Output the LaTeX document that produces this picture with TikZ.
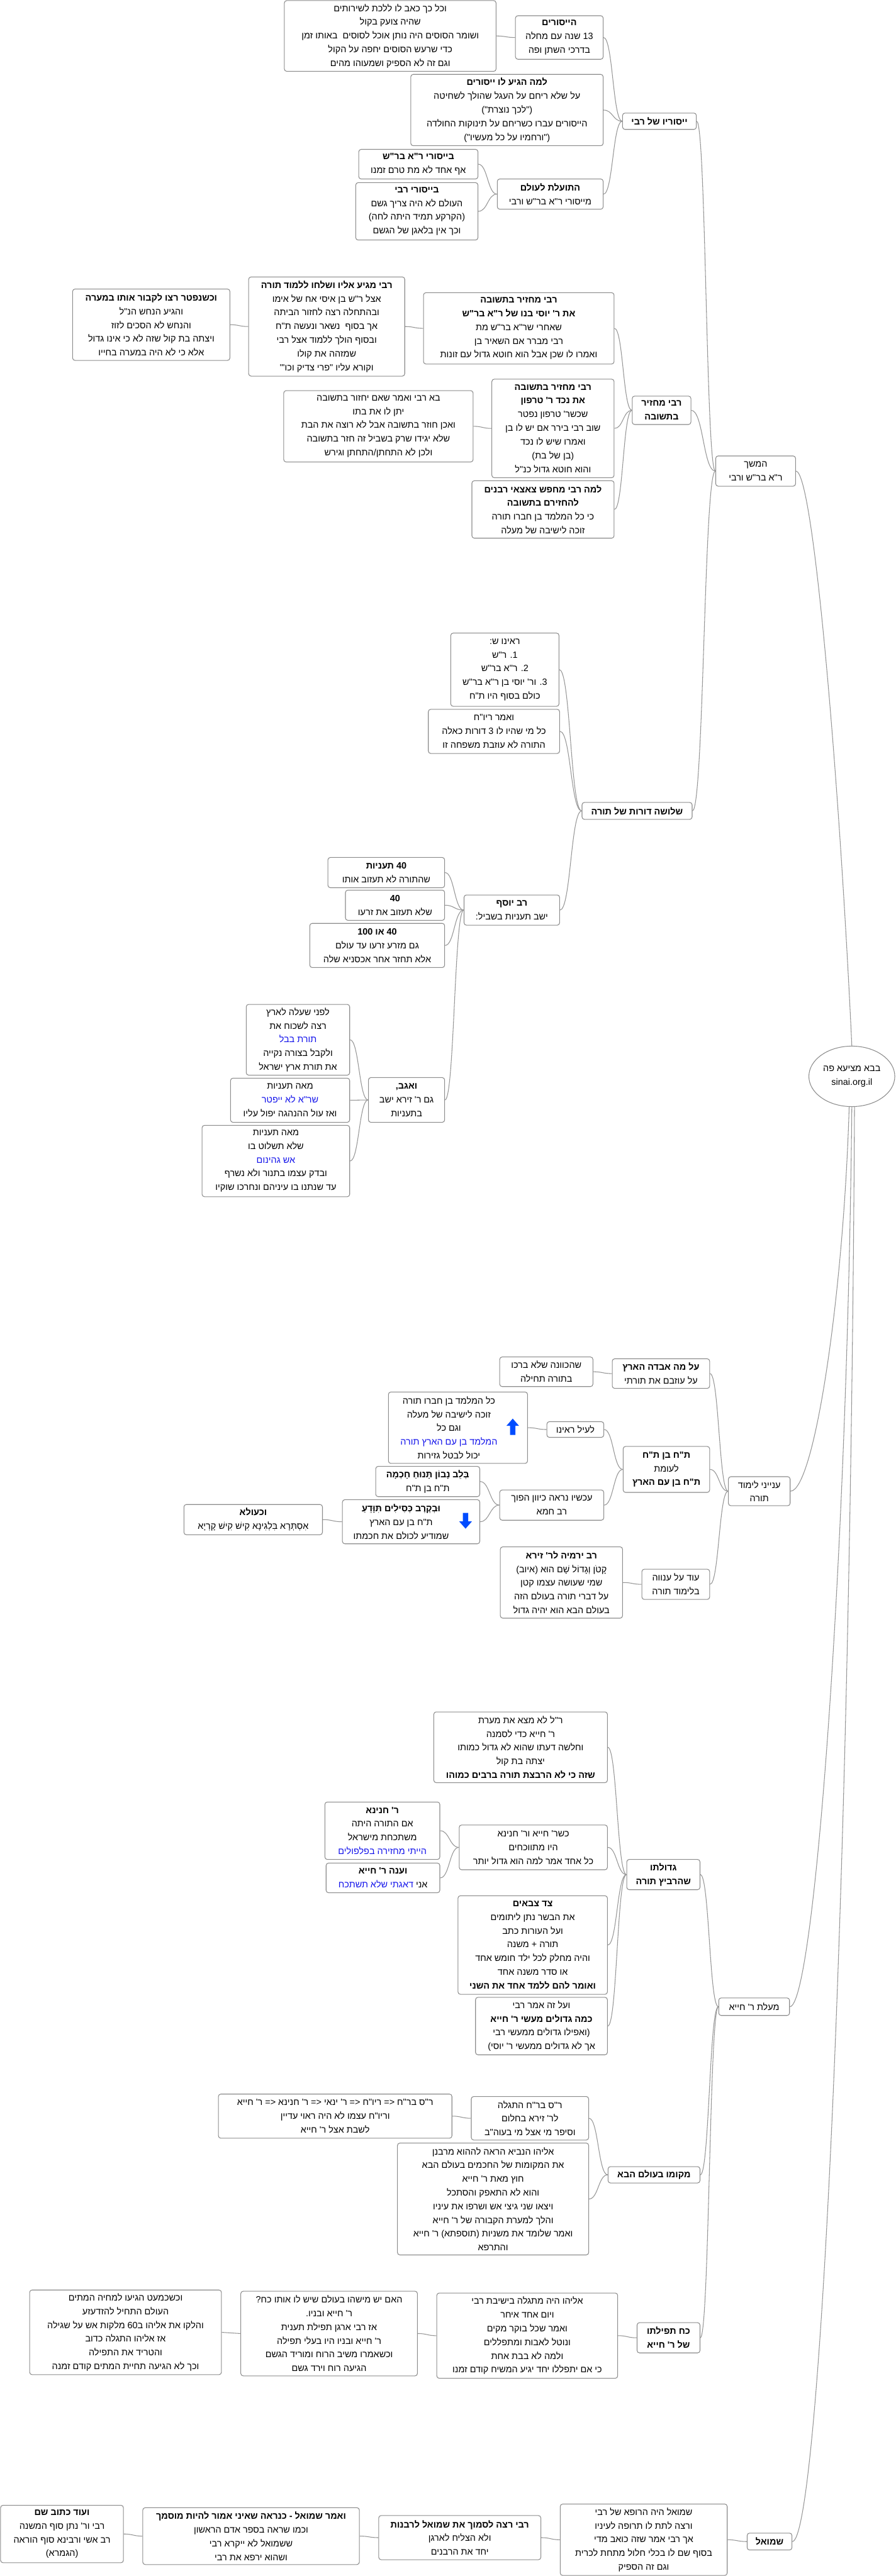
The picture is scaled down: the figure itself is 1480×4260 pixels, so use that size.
\documentclass[tikz,border=0pt]{standalone}
\usepackage{fontspec}
\usetikzlibrary{shapes.geometric,calc}
\newfontfamily\heb[Script=Hebrew,Ligatures=ResetAll]{Liberation Sans}
\TeXXeTstate=1
\definecolor{hblue}{RGB}{20,20,235}
\definecolor{bordc}{RGB}{140,140,140}
\definecolor{connc}{RGB}{150,150,150}
\newcommand\R[1]{{\beginR #1\endR}}
\newcommand\B[1]{{\bfseries\beginR #1\endR}}
\newcommand\BL[1]{{\color{hblue}\beginR #1\endR}}
\tikzset{
  bx/.style={draw=bordc,line width=1.1pt,rounded corners=4pt,fill=white,align=center,inner sep=0pt,
    font=\heb\fontsize{15}{22.7}\selectfont},
  txt/.style={align=center,inner sep=0pt,font=\heb\fontsize{15}{22.7}\selectfont},
  conn/.style={draw=connc,line width=1.1pt}
}
\newcommand\bx[6]{\node[bx,minimum width={#4-#2},minimum height={#5-#3}] (#1) at ({(#2+#4)/2},{(#3+#5)/2}) {#6};}
\newcommand\cn[2]{\draw[conn] let \p1=(#1.west), \p2=(#2.east) in (\p1) .. controls ({0.5*\x1+0.5*\x2},\y1) and ({0.5*\x1+0.5*\x2},\y2) .. (\p2);}
\begin{document}
\begin{tikzpicture}[x=1pt,y=-1pt]
\fill[white] (0,0) rectangle (1480,4260);
\useasboundingbox (0,0) rectangle (1480,4260);

% root
\node[ellipse,draw=bordc,line width=1.1pt,fill=white,minimum width=142,minimum height=100,txt] (root) at (1408,1780) {\R{בבא מציעא פה}\\ sinai.org.il};

% level 1
\bx{hamshech}{1183}{754}{1315}{804}{\R{המשך}\\\R{ר"א בר"ש ורבי}}
\bx{e0}{1204}{2442}{1306}{2490}{\R{ענייני לימוד}\\\R{תורה}}
\bx{f0}{1188}{3304}{1305}{3333}{\R{מעלת ר' חייא}}
\bx{g0}{1235}{4189}{1309}{4217}{\B{שמואל}}

% section A
\bx{yisurav}{1029}{187}{1151}{214}{\B{ייסוריו של רבי}}
\bx{a1}{852}{26}{997}{98}{\B{הייסורים}\\\R{13 שנה עם מחלה}\\\R{בדרכי השתן ופה}}
\bx{a1a}{470}{1}{820}{118}{\R{וכל כך כאב לו ללכת לשירותים}\\\R{שהיה צועק בקול}\\\R{ושומר הסוסים היה נותן אוכל לסוסים \ באותו זמן}\\\R{כדי שרעש הסוסים יחפה על הקול}\\\R{וגם זה לא הספיק ושמעוהו מהים}}
\bx{a2}{679}{123}{997}{241}{\B{למה הגיע לו ייסורים}\\\R{על שלא ריחם על העגל שהולך לשחיטה}\\\R{("לכך נוצרת")}\\\R{הייסורים עברו כשריחם על תינוקות החולדה}\\\R{("ורחמיו על כל מעשיו")}}
\bx{a3}{822}{296}{997}{346}{\B{התועלת לעולם}\\\R{מייסורי ר"א בר"ש ורבי}}
\bx{a3a}{593}{247}{790}{296}{\B{בייסורי ר"א בר"ש}\\\R{אף אחד לא מת טרם זמנו}}
\bx{a3b}{588}{302}{790}{397}{\B{בייסורי רבי}\\\R{העולם לא היה צריך גשם}\\\R{(הקרקע תמיד היתה לחה)}\\\R{וכך אין בלאגן של הגשם}}

% section B
\bx{machzir}{1045}{655}{1142}{702}{\B{רבי מחזיר}\\\B{בתשובה}}
\bx{b1}{700}{484}{1015}{602}{\B{רבי מחזיר בתשובה}\\\B{את ר' יוסי בנו של ר"א בר"ש}\\\R{שאחרי שר"א בר"ש מת}\\\R{רבי מברר אם השאיר בן}\\\R{ואמרו לו שכן אבל הוא חוטא גדול עם זונות}}
\bx{b1a}{411}{458}{669}{622}{\B{רבי מגיע אליו ושלחו ללמוד תורה}\\\R{אצל ר"ש בן איסי אח של אימו}\\\R{ובהתחלה רצה לחזור הביתה}\\\R{אך בסוף \ נשאר ונעשה ת"ח}\\\R{ובסוף הולך ללמוד אצל רבי}\\\R{שמזהה את קולו}\\\R{וקורא עליו "פרי צדיק וכו'"}}
\bx{b1a1}{120}{478}{380}{596}{\B{וכשנפטר רצו לקבור אותו במערה}\\\R{והגיע הנחש הנ"ל}\\\R{והנחש לא הסכים לזוז}\\\R{ויצתה בת קול שזה לא כי אינו גדול}\\\R{אלא כי לא היה במערה בחייו}}
\bx{b2}{813}{627}{1015}{790}{\B{רבי מחזיר בתשובה}\\\B{את נכד ר' טרפון}\\\R{שכשר' טרפון נפטר}\\\R{שוב רבי בירר אם יש לו בן}\\\R{ואמרו שיש לו נכד}\\\R{(בן של בת)}\\\R{והוא חוטא גדול כנ"ל}}
\bx{b2a}{469}{646}{782}{764}{\R{בא רבי ואמר שאם יחזור בתשובה}\\\R{יתן לו את בתו}\\\R{ואכן חוזר בתשובה אבל לא רוצה את הבת}\\\R{שלא יגידו שרק בשביל זה חזר בתשובה}\\\R{ולכן לא התחתן/התחתן וגירש}}
\bx{b3}{780}{795}{1015}{890}{\B{למה רבי מחפש צאצאי רבנים}\\\B{להחזירם בתשובה}\\\R{כי כל המלמד בן חברו תורה}\\\R{זוכה לישיבה של מעלה}}

% section C
\bx{shlosha}{962}{1327}{1144}{1355}{\B{שלושה דורות של תורה}}
\bx{c1}{745}{1047}{924}{1168}{\R{ראינו ש:}\\\R{1. ר"ש}\\\R{2. ר"א בר"ש}\\\R{3. ור' יוסי בן ר"א בר"ש}\\\R{כולם בסוף היו ת"ח}}
\bx{c2}{708}{1173}{925}{1246}{\R{ואמר ריו"ח}\\\R{כל מי שהיו לו 3 דורות כאלה}\\\R{התורה לא עוזבת משפחה זו}}

% section D
\bx{ravyosef}{767}{1480}{925}{1530}{\B{רב יוסף}\\\R{ישב תעניות בשביל:}}
\bx{d1}{542}{1418}{735}{1468}{\B{40 תעניות}\\\R{שהתורה לא תעזוב אותו}}
\bx{d2}{571}{1472}{735}{1522}{\B{40}\\\R{שלא תעזוב את זרעו}}
\bx{d3}{512}{1527}{735}{1600}{\B{40 או 100}\\\R{גם מזרע זרעו עד עולם}\\\R{אלא תחזר אחר אכסניא שלה}}
\bx{d4}{609}{1782}{735}{1856}{\B{ואגב,}\\\R{גם ר' זירא ישב}\\\R{בתעניות}}
\bx{d4a}{407}{1661}{578}{1778}{\R{לפני שעלה לארץ}\\\R{רצה לשכוח את}\\\BL{תורת בבל}\\\R{ולקבל בצורה נקייה}\\\R{את תורת ארץ ישראל}}
\bx{d4b}{381}{1783}{578}{1856}{\R{מאה תעניות}\\\BL{שר"א לא ייפטר}\\\R{ואז עול ההנהגה יפול עליו}}
\bx{d4c}{334}{1861}{578}{1979}{\R{מאה תעניות}\\\R{שלא תשלוט בו}\\\BL{אש גהינום}\\\R{ובדק עצמו בתנור ולא נשרף}\\\R{עד שנתנו בו עיניהם ונחרכו שוקיו}}

% section E
\bx{e1}{1012}{2247}{1173}{2296}{\B{על מה אבדה הארץ}\\\R{על עוזבם את תורתי}}
\bx{e1a}{826}{2244}{980}{2293}{\R{שהכוונה שלא ברכו}\\\R{בתורה תחילה}}
\bx{e2}{1030}{2392}{1173}{2468}{\B{ת"ח בן ת"ח}\\\R{לעומת}\\\B{ת"ח בן עם הארץ}}
\bx{e2a}{904}{2351}{998}{2377}{\R{לעיל ראינו}}
\bx{e2a1}{642}{2302}{872}{2420}{\strut}
\node[txt] (e2a1t) at (742,2361) {\R{כל המלמד בן חברו תורה}\\\R{זוכה לישיבה של מעלה}\\\R{וגם כל}\\\BL{המלמד בן עם הארץ תורה}\\\R{יכול לבטל גזירות}};
\fill[blue!70!cyan] (847.5,2346) -- (858,2358) -- (852,2358) -- (852,2373) -- (843,2373) -- (843,2358) -- (837,2358) -- cycle;
\bx{e2b}{826}{2464}{998}{2514}{\R{עכשיו נראה כיוון הפוך}\\\R{רב חמא}}
\bx{e2b1}{621}{2425}{793}{2475}{\B{בְּלֵב נָבוֹן תָּנוּחַ חָכְמָה}\\\R{ת"ח בן ת"ח}}
\bx{e2b2}{566}{2480}{793}{2553}{\strut}
\node[txt] (e2b2t) at (663,2516.5) {\B{וּבְקֶרֶב כְּסִילִים תִּוָּדֵעַ}\\\R{ת"ח בן עם הארץ}\\\R{שמודיע לכולם את חכמתו}};
\fill[blue!70!cyan] (769.5,2528) -- (780,2516) -- (774,2516) -- (774,2502) -- (765,2502) -- (765,2516) -- (759,2516) -- cycle;
\bx{e2b2a}{304}{2488}{533}{2538}{\B{וכעולא}\\\R{אִסְתְּרָא בִּלְגִינָא קִישׁ קִישׁ קָרְיָא}}
\bx{e3}{1061}{2595}{1173}{2645}{\R{עוד על ענווה}\\\R{בלימוד תורה}}
\bx{e3a}{827}{2558}{1029}{2676}{\B{רב ירמיה לר' זירא}\\\R{קָטֹן וְגָדוֹל שָׁם הוּא (איוב)}\\\R{שמי שעושה עצמו קטן}\\\R{על דברי תורה בעולם הזה}\\\R{בעולם הבא הוא יהיה גדול}}

% section F
\bx{f1}{1036}{3075}{1157}{3125}{\B{גדולתו}\\\B{שהרביץ תורה}}
\bx{f1a}{717}{2831}{1004}{2948}{\R{ר"ל לא מצא את מערת}\\\R{ר' חייא כדי לסמנה}\\\R{וחלשה דעתו שהוא לא גדול כמותו}\\\R{יצתה בת קול}\\\B{שזה כי לא הרבצת תורה ברבים כמוהו}}
\bx{f1b}{759}{3018}{1004}{3092}{\R{כשר' חייא ור' חנינא}\\\R{היו מתווכחים}\\\R{כל אחד אמר למה הוא גדול יותר}}
\bx{f1b1}{537}{2980}{727}{3075}{\B{ר' חנינא}\\\R{אם התורה היתה}\\\R{משתכחת מישראל}\\\BL{הייתי מחזירה בפלפולים}}
\bx{f1b2}{539}{3081}{727}{3130}{\B{וענה ר' חייא}\\\BL{דאגתי שלא תשתכח}\ \R{אני}}
\bx{f1c}{757}{3135}{1004}{3298}{\B{צד צבאים}\\\R{את הבשר נתן ליתומים}\\\R{ועל העורות כתב}\\\R{תורה + משנה}\\\R{והיה מחלק לכל ילד חומש אחד}\\\R{או סדר משנה אחד}\\\B{ואומר להם ללמד אחד את השני}}
\bx{f1d}{786}{3303}{1004}{3398}{\R{ועל זה אמר רבי}\\\B{כמה גדולים מעשי ר' חייא}\\\R{(ואפילו גדולים ממעשי רבי}\\\R{אך לא גדולים ממעשי ר' יוסי)}}
\bx{f2}{1005}{3583}{1157}{3610}{\B{מקומו בעולם הבא}}
\bx{f2a}{779}{3467}{973}{3539}{\R{ר"ס בר"ח התגלה}\\\R{לר' זירא בחלום}\\\R{וסיפר מי אצל מי בעוה"ב}}
\bx{f2a1}{361}{3463}{747}{3536}{\R{ר"ס בר"ח <= ריו"ח <= ר' ינאי <= ר' חנינא <= ר' חייא}\\\R{וריו"ח עצמו לא היה ראוי עדיין}\\\R{לשבת אצל ר' חייא}}
\bx{f2b}{657}{3544}{973}{3729}{\R{אליהו הנביא הראה לההוא מרבנן}\\\R{את המקומות של החכמים בעולם הבא}\\\R{חוץ מאת ר' חייא}\\\R{והוא לא התאפק והסתכל}\\\R{ויצאו שני גיצי אש ושרפו את עיניו}\\\R{והלך למערת הקבורה של ר' חייא}\\\R{ואמר שלומד את משניות (תוספתא) ר' חייא}\\\R{והתרפא}}
\bx{f3}{1053}{3841}{1157}{3891}{\B{כח תפילתו}\\\B{של ר' חייא}}
\bx{f3a}{722}{3792}{1021}{3933}{\R{אליהו היה מתגלה בישיבת רבי}\\\R{ויום אחד איחר}\\\R{ואמר שכל בוקר מקים}\\\R{ונוטל לאבות ומתפללים}\\\R{ולמה לא בבת אחת}\\\R{כי אם יתפללו יחד יגיע המשיח קודם זמנו}}
\bx{f3b}{398}{3789}{690}{3929}{\R{האם יש מישהו בעולם שיש לו אותו כח?}\\\R{ר' חייא ובניו.}\\\R{אז רבי ארגן תפילת תענית}\\\R{ר' חייא ובניו היו בעלי תפילה}\\\R{וכשאמרו משיב הרוח ומוריד הגשם}\\\R{הגיעה רוח וירד גשם}}
\bx{f3c}{49}{3787}{366}{3927}{\R{וכשכמעט הגיעו למחיה המתים}\\\R{העולם התחיל להזדעזע}\\\R{והלקו את אליהו ב60 מלקות אש על שגילה}\\\R{אז אליהו התגלה כדוב}\\\R{והטריד את התפילה}\\\R{וכך לא הגיעה תחיית המתים קודם זמנה}}

% section G
\bx{g1}{926}{4141}{1202}{4259}{\R{שמואל היה הרופא של רבי}\\\R{ורצה לתת לו תרופה לעיניו}\\\R{אך רבי אמר שזה כואב מדי}\\\R{בסוף שם לו בכלי חלול מתחת לכרית}\\\R{וגם זה הספיק}}
\bx{g2}{626}{4160}{894}{4233}{\B{רבי רצה לסמוך את שמואל לרבנות}\\\R{ולא הצליח לארגן}\\\R{יחד את הרבנים}}
\bx{g3}{236}{4147}{594}{4241}{\B{ואמר שמואל - כנראה שאיני אמור להיות מוסמך}\\\R{וכמו שראה בספר אדם הראשון}\\\R{ששמואל לא ייקרא רבי}\\\R{ושהוא ירפא את רבי}}
\bx{g4}{1}{4143}{204}{4238}{\B{ועוד כתוב שם}\\\R{רבי ור' נתן סוף המשנה}\\\R{רב אשי ורבינא סוף הוראה}\\\R{(הגמרא)}}

% connectors from root
\draw[conn] (root.north) .. controls (1388,1300) and (1345,779) .. (hamshech.east);
\draw[conn] (root.265) .. controls (1394,2150) and (1345,2466) .. (e0.east);
\draw[conn] (root.270) .. controls (1400,2600) and (1345,3318) .. (f0.east);
\draw[conn] (root.275) .. controls (1405,3200) and (1352,4203) .. (g0.east);

% tree connectors
\cn{hamshech}{yisurav}\cn{hamshech}{machzir}\cn{hamshech}{shlosha}
\cn{yisurav}{a1}\cn{yisurav}{a2}\cn{yisurav}{a3}\cn{a1}{a1a}\cn{a3}{a3a}\cn{a3}{a3b}
\cn{machzir}{b1}\cn{machzir}{b2}\cn{machzir}{b3}\cn{b1}{b1a}\cn{b1a}{b1a1}\cn{b2}{b2a}
\cn{shlosha}{c1}\cn{shlosha}{c2}\cn{shlosha}{ravyosef}
\cn{ravyosef}{d1}\cn{ravyosef}{d2}\cn{ravyosef}{d3}\cn{ravyosef}{d4}
\cn{d4}{d4a}\cn{d4}{d4b}\cn{d4}{d4c}
\cn{e0}{e1}\cn{e0}{e2}\cn{e0}{e3}\cn{e1}{e1a}\cn{e2}{e2a}\cn{e2}{e2b}\cn{e2a}{e2a1}
\cn{e2b}{e2b1}\cn{e2b}{e2b2}\cn{e2b2}{e2b2a}\cn{e3}{e3a}
\cn{f0}{f1}\cn{f0}{f2}\cn{f0}{f3}\cn{f1}{f1a}\cn{f1}{f1b}\cn{f1}{f1c}\cn{f1}{f1d}
\cn{f1b}{f1b1}\cn{f1b}{f1b2}\cn{f2}{f2a}\cn{f2}{f2b}\cn{f2a}{f2a1}
\cn{f3}{f3a}\cn{f3a}{f3b}\cn{f3b}{f3c}
\cn{g0}{g1}\cn{g1}{g2}\cn{g2}{g3}\cn{g3}{g4}
\end{tikzpicture}
\end{document}
